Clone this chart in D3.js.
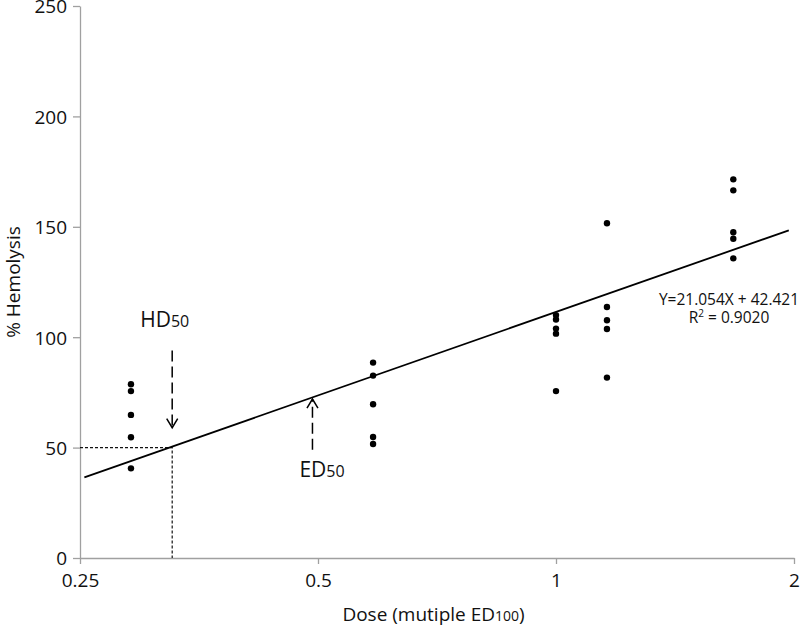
<!DOCTYPE html>
<html>
<head>
<meta charset="utf-8">
<script src="https://cdn.jsdelivr.net/npm/d3@7"></script>
<style>
  body { margin: 0; background: #fff; }
  text { font-family: "Open Sans", sans-serif; fill: #111; }
  .axis path, .axis line { stroke: #a0a0a0; stroke-width: 1.3; }
</style>
</head>
<body>
<div id="chart"></div>
<script>
// dose groups (multiple of ED100) and measured % hemolysis per group
var doses = [0.29, 0.587, 1.0, 1.16, 1.676];
var hemolysis = [
    [78.7, 75.6, 64.8, 54.7, 40.6],
    [88.5, 82.6, 69.6, 54.8, 51.6],
    [110, 108, 103.9, 101.6, 75.6],
    [151.6, 113.7, 107.7, 103.7, 81.7],
    [171.5, 166.5, 147.5, 144.6, 135.7]
];
// trend line end points
var fitX = [0.2532, 1.97];
var fitY = [36.5, 148.4];
// HD50 / ED50 markers
var hd50 = 0.327, hdLevel = 50;
var hdArrow = [94, 59];
var ed50 = 0.492;
var edArrow = [49, 72];

var xTicks = [0.25, 0.5, 1, 2];
var xTickLabels = ["0.25", "0.5", "1", "2"];
var yTicks = [0, 50, 100, 150, 200, 250];

var margin = {top: 6, right: 6, bottom: 70, left: 80},
    width = 800 - margin.left - margin.right,
    height = 628 - margin.top - margin.bottom;

var svg = d3.select("#chart").append("svg")
    .attr("width", 800)
    .attr("height", 628)
    .append("g")
    .attr("transform", "translate(" + margin.left + "," + margin.top + ")");

var x = d3.scaleLog().base(2).domain([0.25, 2]).range([0, 714]);
var y = d3.scaleLinear().domain([0, 250]).range([height, 0]);

// axes
svg.append("g")
    .attr("class", "axis")
    .attr("transform", "translate(0," + height + ")")
    .call(d3.axisBottom(x).tickValues(xTicks).tickSize(6).tickSizeOuter(0)
        .tickFormat(function(d, i) { return xTickLabels[i]; }))
    .selectAll("text")
    .style("font-size", "19px")
    .attr("dy", "1.05em");

svg.append("g")
    .attr("class", "axis")
    .call(d3.axisLeft(y).tickValues(yTicks).tickSize(7).tickSizeOuter(0))
    .selectAll("text")
    .style("font-size", "19px")
    .attr("x", -13)
    .attr("dy", "0.36em");

svg.selectAll(".axis text").style("fill", "#111");

// axis titles
svg.append("text")
    .attr("transform", "translate(" + (20 - margin.left) + "," + y(125) + ") rotate(-90)")
    .attr("text-anchor", "middle")
    .style("font-size", "19px")
    .text("% Hemolysis");

var xt = svg.append("text")
    .attr("x", x(0.7))
    .attr("y", height + 63)
    .attr("text-anchor", "middle")
    .style("font-size", "19px");
xt.append("tspan").text("Dose (mutiple ED");
xt.append("tspan").style("font-size", "14px").text("100");
xt.append("tspan").text(")");

// HD50 dotted guide lines
svg.append("path")
    .attr("d", "M" + x(0.25) + "," + y(hdLevel) + "H" + x(hd50) + "V" + y(0))
    .attr("fill", "none")
    .attr("stroke", "#111")
    .attr("stroke-width", 1.2)
    .attr("stroke-dasharray", "3,2");

// trend line
var line = d3.line()
    .x(function(d) { return x(d[0]); })
    .y(function(d) { return y(d[1]); });

svg.append("path")
    .datum([[fitX[0], fitY[0]], [fitX[1], fitY[1]]])
    .attr("d", line)
    .attr("fill", "none")
    .attr("stroke", "#000")
    .attr("stroke-width", 1.8);

// points
var pts = [];
doses.forEach(function(d, i) {
    hemolysis[i].forEach(function(v) { pts.push([d, v]); });
});
svg.selectAll(".dot")
    .data(pts)
    .enter().append("circle")
    .attr("class", "dot")
    .attr("cx", function(d) { return x(d[0]); })
    .attr("cy", function(d) { return y(d[1]); })
    .attr("r", 3.2)
    .attr("fill", "#000");

// dashed arrows
function arrow(xv, yFrom, yTo) {
    var px = x(xv), y1 = y(yFrom), y2 = y(yTo);
    var dir = y2 > y1 ? -1 : 1;
    svg.append("line")
        .attr("x1", px).attr("x2", px)
        .attr("y1", y1).attr("y2", y2)
        .attr("stroke", "#000")
        .attr("stroke-width", 1.5)
        .attr("stroke-dasharray", "11,5");
    svg.append("path")
        .attr("d", "M" + (px - 5.5) + "," + (y2 + dir * 9) + "L" + px + "," + y2 + "L" + (px + 5.5) + "," + (y2 + dir * 9))
        .attr("fill", "none")
        .attr("stroke", "#000")
        .attr("stroke-width", 1.5);
}
arrow(hd50, hdArrow[0], hdArrow[1]);
arrow(ed50, edArrow[0], edArrow[1]);

// labels
var hl = svg.append("text")
    .attr("x", x(hd50) - 32)
    .attr("y", y(hdArrow[0]) - 23)
    .style("font-size", "21px");
hl.append("tspan").text("HD");
hl.append("tspan").style("font-size", "16px").text("50");

var el = svg.append("text")
    .attr("x", x(ed50) - 13)
    .attr("y", y(edArrow[0]) + 27)
    .style("font-size", "21px");
el.append("tspan").text("ED");
el.append("tspan").style("font-size", "16px").text("50");

// equation
svg.append("text")
    .attr("x", 649)
    .attr("y", 299)
    .attr("text-anchor", "middle")
    .style("font-size", "15.5px")
    .text("Y=21.054X + 42.421");

var r2 = svg.append("text")
    .attr("x", 649)
    .attr("y", 317)
    .attr("text-anchor", "middle")
    .style("font-size", "15.5px");
r2.append("tspan").text("R");
r2.append("tspan").attr("dy", "-6").style("font-size", "10px").text("2");
r2.append("tspan").attr("dy", "6").text(" = 0.9020");
</script>
</body>
</html>
